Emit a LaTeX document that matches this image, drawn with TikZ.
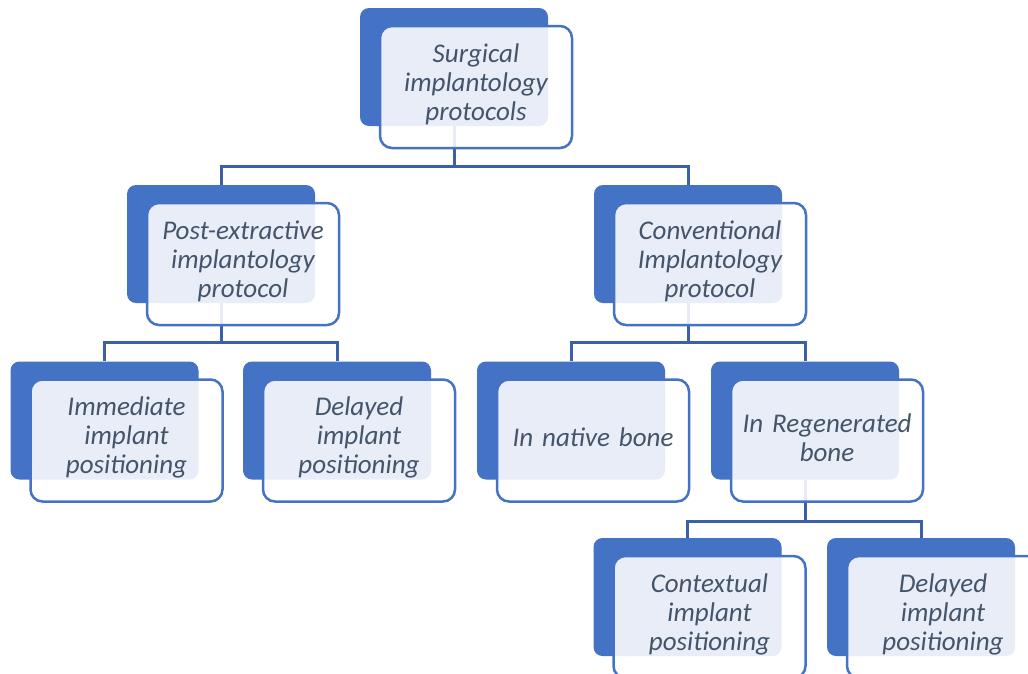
\documentclass[tikz,border=0pt]{standalone}
\usepackage{fontspec}
\setmainfont{Carlito}
\usetikzlibrary{calc}
\definecolor{accent}{HTML}{4472C4}
\definecolor{labeltext}{HTML}{44546A}

\begin{document}
\begin{tikzpicture}[x=1pt,y=-1pt,
  back/.style={rectangle,rounded corners=9pt,fill=accent,minimum width=188pt,minimum height=118pt,inner sep=0pt},
  front/.style={rectangle,rounded corners=12pt,draw=accent,line width=2.5pt,fill=white,fill opacity=0.88,text opacity=1,
    minimum width=192pt,minimum height=122pt,text width=178pt,align=center,inner sep=0pt,
    text=labeltext,font=\fontsize{27}{29}\selectfont\itshape,
    execute at end node={\endgraf\vspace{6pt}}},
  link/.style={draw=accent!85!black,line width=3pt}]
				\useasboundingbox (0,0) rectangle (1028,673);
				\clip (0,0) rectangle (1028,673);
				% dark back panels
				\node[back] (surg-b) at (454,67) {};
				\node[back] (post-b) at (221,244) {};
				\node[back] (conv-b) at (688,244) {};
				\node[back] (imm-b) at (104.5,420.5) {};
				\node[back] (dly-b) at (337,420.5) {};
				\node[back] (nat-b) at (571,420.5) {};
				\node[back] (reg-b) at (805,420.5) {};
				\node[back] (ctx-b) at (687.5,597) {};
				\node[back] (dlyr-b) at (921,597) {};
				% connectors
				\draw[link] (surg-b.south) -- ++(0,40) -| (post-b.north);
				\draw[link] (surg-b.south) ++(0,40) -| (conv-b.north);
				\draw[link] (post-b.south) -- ++(0,39) -| (imm-b.north);
				\draw[link] (post-b.south) ++(0,39) -| (dly-b.north);
				\draw[link] (conv-b.south) -- ++(0,39) -| (nat-b.north);
				\draw[link] (conv-b.south) ++(0,39) -| (reg-b.north);
				\draw[link] (reg-b.south) -- ++(0,42) -| (ctx-b.north);
				\draw[link] (reg-b.south) ++(0,42) -| (dlyr-b.north);
				% front panels with labels
				\node[front] (surg) at ($(surg-b)+(22,20)$) {Surgical\\implantology\\protocols};
				\node[front] (post) at ($(post-b)+(22,20)$) {Post-extractive\\implantology\\protocol};
				\node[front] (conv) at ($(conv-b)+(22,20)$) {Conventional\\Implantology\\protocol};
				\node[front] (imm) at ($(imm-b)+(22,20)$) {Immediate\\implant\\positioning};
				\node[front] (dly) at ($(dly-b)+(22,20)$) {Delayed\\implant\\positioning};
				\node[front] (nat) at ($(nat-b)+(22,20)$) {In native bone};
				\node[front] (reg) at ($(reg-b)+(22,20)$) {In Regenerated\\bone};
				\node[front] (ctx) at ($(ctx-b)+(22,20)$) {Contextual\\implant\\positioning};
				\node[front] (dlyr) at ($(dlyr-b)+(22,20)$) {Delayed\\implant\\positioning};
\end{tikzpicture}
\end{document}
